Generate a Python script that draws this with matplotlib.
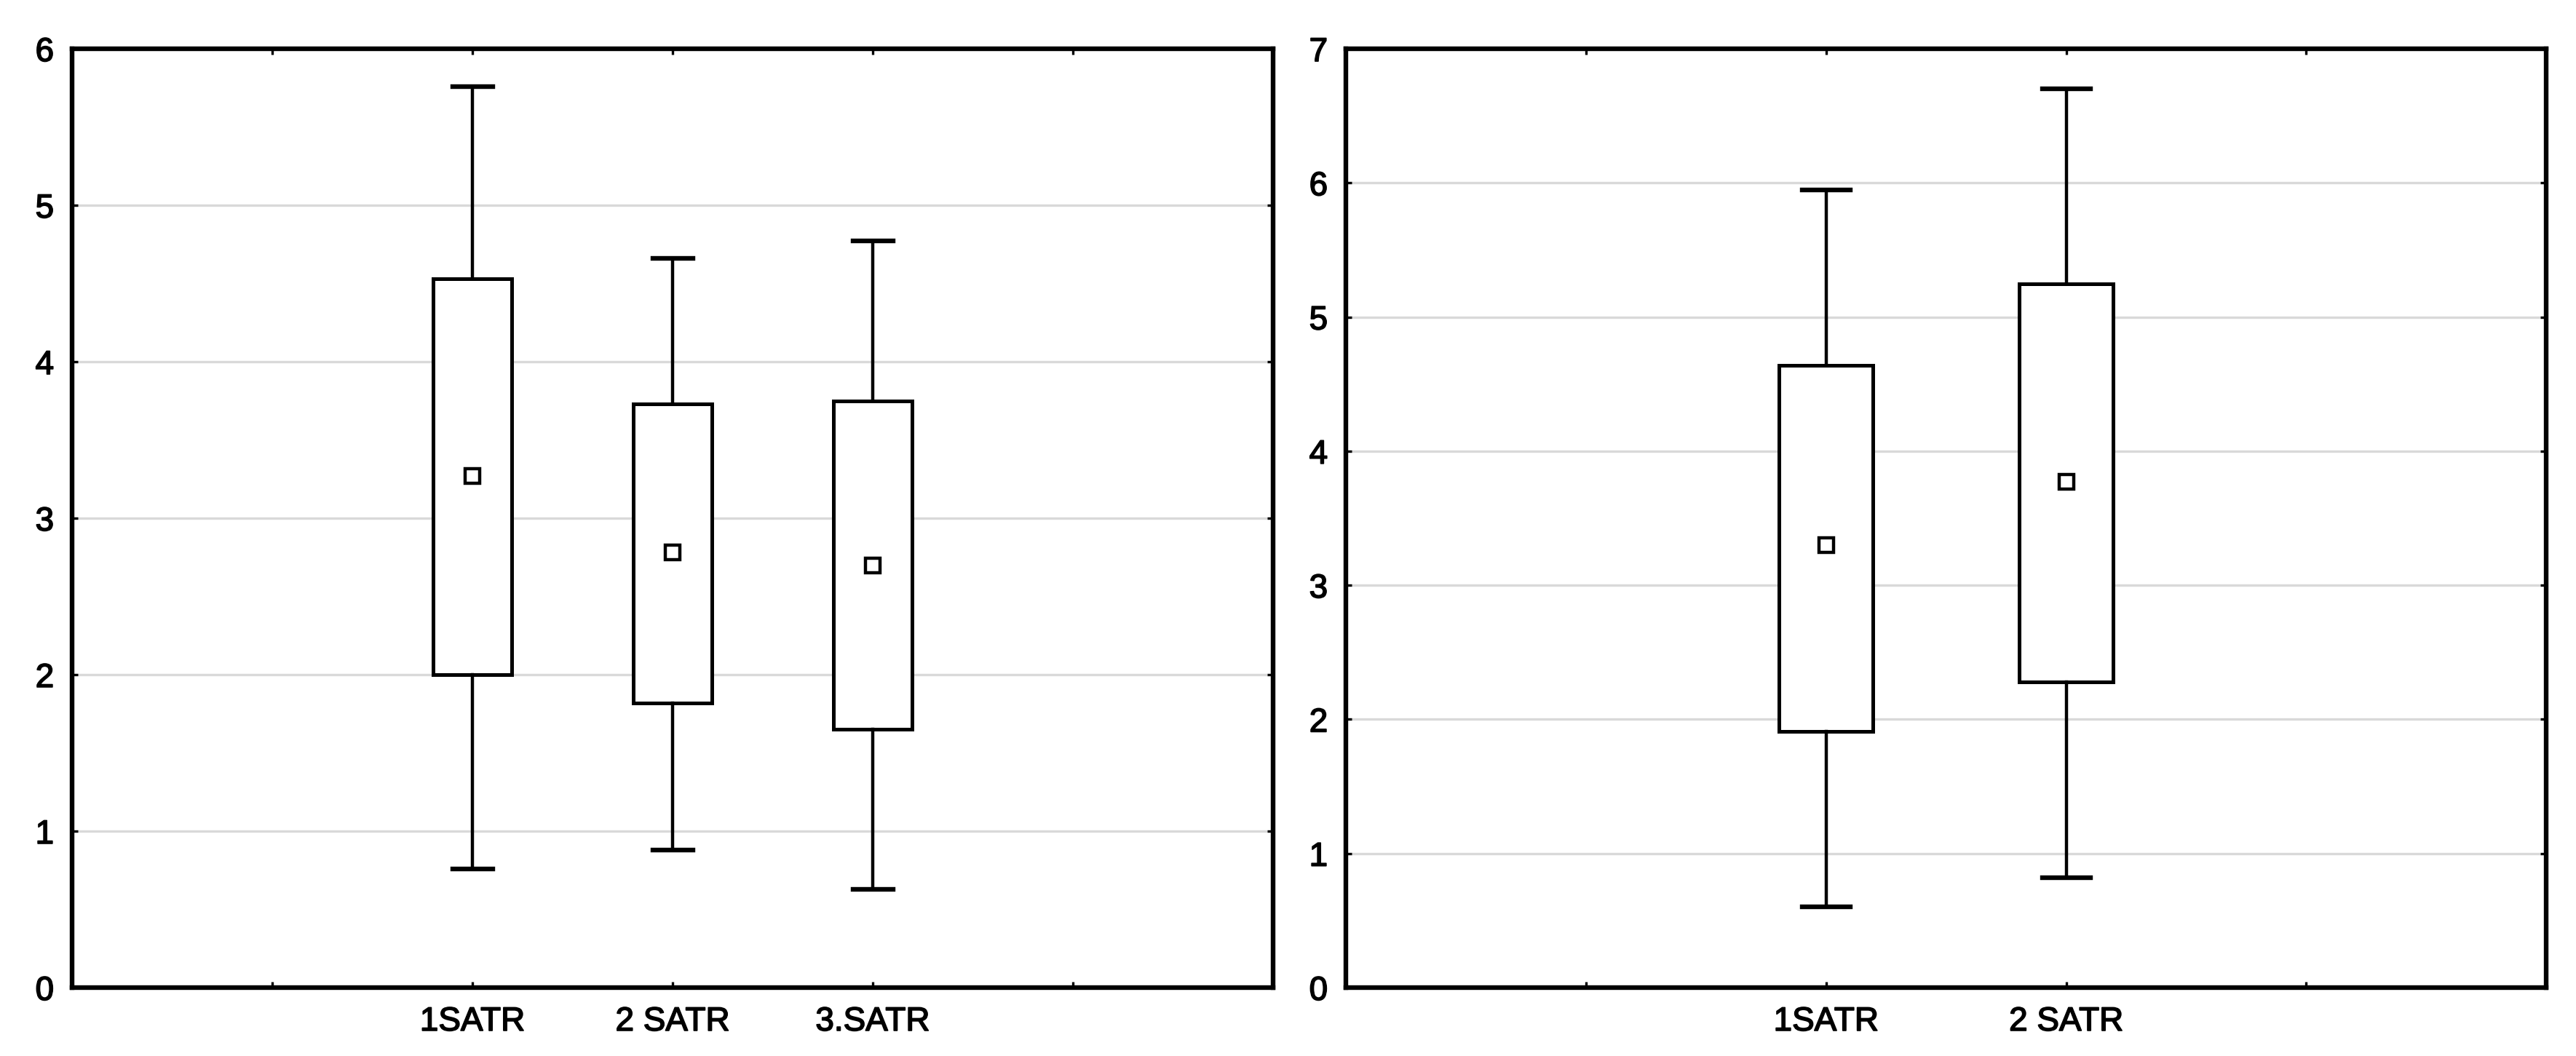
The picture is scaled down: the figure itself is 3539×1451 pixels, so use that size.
import matplotlib.pyplot as plt
import matplotlib.patheffects as pe

# left panel
left_labels = ['1SATR', '2 SATR', '3.SATR']
left_mean = [3.27, 2.78, 2.70]
left_q1 = [2.00, 1.82, 1.65]
left_q3 = [4.53, 3.73, 3.75]
left_lo = [0.76, 0.88, 0.63]
left_hi = [5.76, 4.66, 4.77]

# right panel
right_labels = ['1SATR', '2 SATR']
right_mean = [3.30, 3.77]
right_q1 = [1.91, 2.28]
right_q3 = [4.64, 5.25]
right_lo = [0.60, 0.82]
right_hi = [5.95, 6.70]

plt.rcParams['font.family'] = ['Liberation Sans', 'DejaVu Sans']

fig = plt.figure(figsize=(3539/200, 1451/200), dpi=200)
ax1 = fig.add_axes([0.0280, 0.0648, 0.4662, 0.889])
ax2 = fig.add_axes([0.5225, 0.0648, 0.4660, 0.889])


def draw(ax, labels, mean, q1, q3, lo, hi, ymax):
    stats = []
    for i in range(len(labels)):
        stats.append(dict(med=mean[i], mean=mean[i], q1=q1[i], q3=q3[i],
                          whislo=lo[i], whishi=hi[i], fliers=[], label=labels[i]))
    n = len(labels)
    pos = list(range(2, 2 + n))
    ax.bxp(stats, positions=pos, widths=0.39, capwidths=0.2,
           showmeans=True, patch_artist=True, manage_ticks=False,
           boxprops=dict(facecolor='white', edgecolor='black', linewidth=1.8),
           whiskerprops=dict(color='black', linewidth=1.6),
           capprops=dict(color='black', linewidth=2.3),
           medianprops=dict(linewidth=0),
           meanprops=dict(marker='s', markersize=7, markerfacecolor='white',
                          markeredgecolor='black', markeredgewidth=1.6))
    xmax = n + 3
    ax.set_xlim(0, xmax)
    ax.set_ylim(0, ymax)
    ax.set_xticks(range(1, xmax))
    ax.set_xticklabels([''] + labels + [''] * (xmax - 1 - n - 1))
    ax.set_yticks(range(0, ymax + 1))
    ax.yaxis.grid(True, color='#d9d9d9', linewidth=1.2)
    ax.set_axisbelow(True)
    ax.tick_params(direction='in', length=3, width=1.2, top=True, right=True,
                   labelsize=16.5, pad=9)
    for lab in ax.get_xticklabels() + ax.get_yticklabels():
        lab.set_path_effects([pe.withStroke(linewidth=0.6, foreground='black')])
    for s in ax.spines.values():
        s.set_linewidth(2.3)


draw(ax1, left_labels, left_mean, left_q1, left_q3, left_lo, left_hi, 6)
draw(ax2, right_labels, right_mean, right_q1, right_q3, right_lo, right_hi, 7)

fig.savefig('out.png', dpi=200)
